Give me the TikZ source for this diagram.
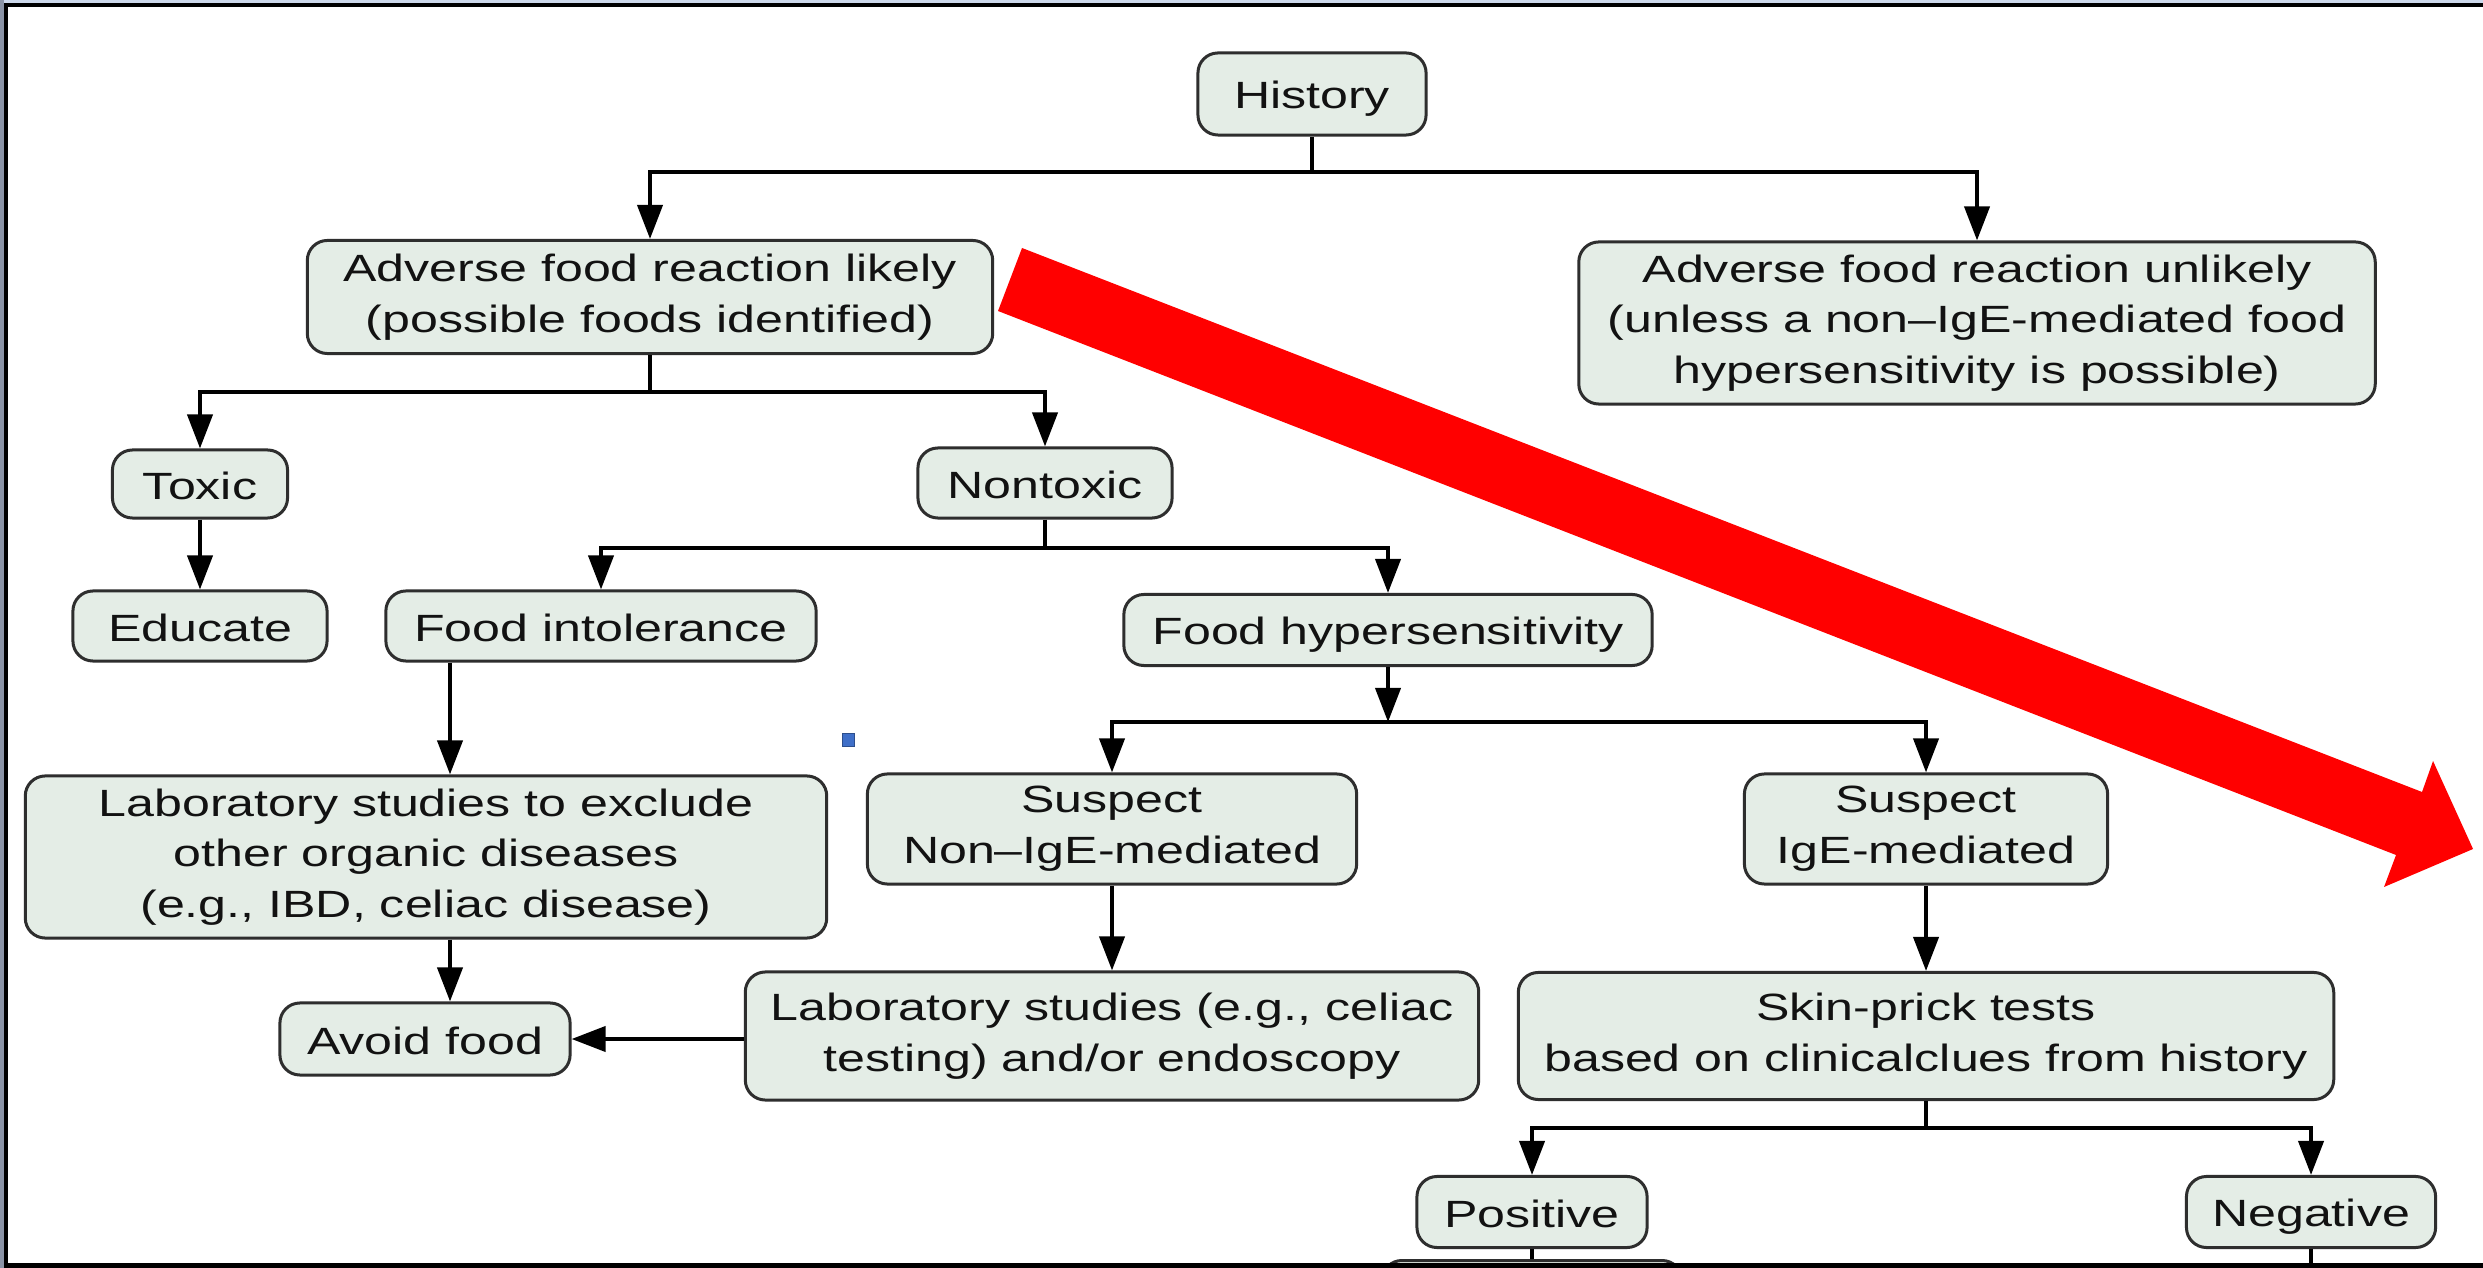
\documentclass[tikz,border=0pt]{standalone}
\usepackage{fontspec}
\setmainfont[FakeStretch=1.32]{Liberation Sans}
\usetikzlibrary{arrows.meta}
\definecolor{boxfill}{HTML}{E4EDE6}
\definecolor{boxline}{HTML}{2E2E2E}
\definecolor{txt}{HTML}{121212}
\definecolor{frameband}{HTML}{8B94A7}
\definecolor{topband}{HTML}{CCD8EB}
\definecolor{dotblue}{HTML}{3F6FC8}
% vertical padding rules that centre the lettering in a box
\newcommand{\capstrut}{\rule[-1.5pt]{0pt}{12pt}}
\newcommand{\tallstrut}{\rule{0pt}{14.5pt}}
\begin{document}
\begin{tikzpicture}[x=0.01cm,y=-0.01cm,
  fbox/.style={draw=boxline, line width=0.3mm, fill=boxfill, rounded corners=2mm,
    align=center, inner sep=0pt, text=txt, font=\fontsize{10.8}{14.4}\selectfont,
    execute at begin node=\capstrut, execute at end node=\capstrut},
  lowered/.style={execute at begin node=\tallstrut},
  link/.style={line width=0.4mm, draw=black},
  arr/.style={link, -{Triangle[length=3.4mm,width=2.5mm]}}]

\useasboundingbox (0,0) rectangle (2483,1268);
\fill[white] (0,0) rectangle (2483,1268);

% boxes of the flow chart
\node[fbox, minimum width=2.28cm, minimum height=0.82cm] (hist) at (1312,94) {History};
\node[fbox, lowered, minimum width=6.85cm, minimum height=1.13cm] (likely) at (650,297)
  {Adverse food reaction likely\\(possible foods identified)};
\node[fbox, lowered, minimum width=7.96cm, minimum height=1.62cm] (unlikely) at (1977,323)
  {Adverse food reaction unlikely\\(unless a non–IgE-mediated food\\hypersensitivity is possible)};
\node[fbox, minimum width=1.75cm, minimum height=0.68cm] (toxic) at (200,484) {Toxic};
\node[fbox, minimum width=2.54cm, minimum height=0.70cm] (nontox) at (1045,483) {Nontoxic};
\node[fbox, minimum width=2.54cm, minimum height=0.70cm] (educ) at (200,626) {Educate};
\node[fbox, minimum width=4.30cm, minimum height=0.70cm] (intol) at (601,626) {Food intolerance};
\node[fbox, minimum width=5.28cm, minimum height=0.71cm] (hyper) at (1388,630) {Food hypersensitivity};
\node[fbox, lowered, minimum width=8.01cm, minimum height=1.62cm] (lab1) at (426,857)
  {Laboratory studies to exclude\\other organic diseases\\(e.g., IBD, celiac disease)};
\node[fbox, lowered, minimum width=4.89cm, minimum height=1.10cm] (nonige) at (1112,829)
  {Suspect\\Non–IgE-mediated};
\node[fbox, lowered, minimum width=3.63cm, minimum height=1.10cm] (ige) at (1926,829)
  {Suspect\\IgE-mediated};
\node[fbox, minimum width=2.90cm, minimum height=0.72cm] (avoid) at (425,1039) {Avoid food};
\node[fbox, minimum width=7.33cm, minimum height=1.28cm] (lab2) at (1112,1036)
  {Laboratory studies (e.g., celiac\\testing) and/or endoscopy};
\node[fbox, minimum width=8.15cm, minimum height=1.27cm] (skin) at (1926,1036)
  {Skin-prick tests\\based on clinicalclues from history};
\node[fbox, minimum width=2.30cm, minimum height=0.71cm] (pos) at (1532,1212) {Positive};
\node[fbox, minimum width=2.49cm, minimum height=0.71cm] (neg) at (2311,1212) {Negative};
\begin{scope}
  \clip (0,0) rectangle (2483,1268);
  \node[fbox, minimum width=3.00cm, minimum height=1.00cm, anchor=north] (next) at (1532,1259) {};
\end{scope}

% connectors
\coordinate (b1) at (1312,172);
\draw[link] (hist.south) -- (b1);
\draw[arr] (b1) -| (likely.north);
\draw[arr] (b1) -| (unlikely.north);

\coordinate (b2) at (650,392);
\draw[link] (likely.south) -- (b2);
\draw[arr] (b2) -| (toxic.north);
\draw[arr] (b2) -| (nontox.north);

\draw[arr] (toxic.south) -- (educ.north);

\coordinate (b3) at (1045,548);
\draw[link] (nontox.south) -- (b3);
\draw[arr] (b3) -| (intol.north);
\draw[arr] (b3) -| (hyper.north);

\coordinate (c1) at (450,0);
\draw[arr] (intol.south -| c1) -- (lab1.north -| c1);
\draw[arr] (lab1.south -| c1) -- (avoid.north -| c1);

\coordinate (b4) at (1388,722);
\draw[arr] (hyper.south) -- (b4);
\draw[arr] (b4) -| (nonige.north);
\draw[arr] (b4) -| (ige.north);

\draw[arr] (nonige.south) -- (lab2.north);
\draw[arr] (ige.south) -- (skin.north);
\draw[arr] (avoid.east -| lab2.west) -- (avoid.east);

\coordinate (b5) at (1926,1128);
\draw[link] (skin.south) -- (b5);
\draw[arr] (b5) -| (pos.north);
\draw[arr] (b5) -| (neg.north);
\draw[link] (pos.south) -- (next.north);
\coordinate (bot) at (2311,1268);
\draw[link] (neg.south) -- (bot);

% small blue marker
\filldraw[fill=dotblue, draw=dotblue!70!black, line width=0.1mm] (842,734) rectangle (854,747);

% big red block arrow
\fill[red] (1022,248) -- (2422,792) -- (2433,761) -- (2473,849) -- (2384,887)
  -- (2396,855) -- (998,311) -- cycle;

% frame
\fill[topband] (0,0) rectangle (2483,3);
\fill[frameband] (0,0) rectangle (4,1268);
\fill[black] (4,3) rectangle (2483,7);
\fill[black] (4,3) rectangle (8,1268);
\fill[black] (4,1263) rectangle (2483,1268);
\end{tikzpicture}
\end{document}
